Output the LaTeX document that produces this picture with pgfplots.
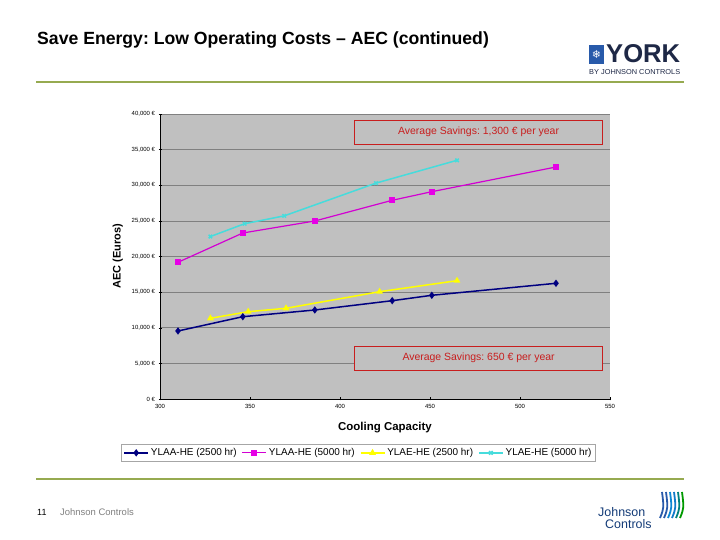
\documentclass[border=0pt]{standalone}
\usepackage{pgfplots}
\pgfplotsset{compat=1.18}
\usepackage{fontspec}
\setmainfont{Liberation Sans}
\newfontfamily\dejavu{DejaVu Sans}
\frenchspacing
\definecolor{plotgray}{RGB}{192,192,192}
\definecolor{gridgray}{RGB}{128,128,128}
\definecolor{sNavy}{RGB}{0,0,128}
\definecolor{sMag}{RGB}{230,0,230}
\definecolor{sYel}{RGB}{255,255,0}
\definecolor{sCyan}{RGB}{70,220,220}
\definecolor{boxred}{RGB}{200,30,30}
\definecolor{olive}{RGB}{150,170,80}
\definecolor{yorkblue}{RGB}{40,90,170}
\definecolor{yorkdark}{RGB}{30,40,70}
\definecolor{jcblue}{RGB}{20,60,120}
\begin{document}
\begin{tikzpicture}[x=1bp,y=1bp]
\path[use as bounding box, fill=white] (0,0) rectangle (720,540);
% title
\node[anchor=west, font=\fontsize{17.7}{20}\selectfont\bfseries, inner sep=0] at (37,500) {Save Energy: Low Operating Costs – AEC (continued)};
\draw[olive, line width=1.2bp] (36,458) -- (684,458);
\draw[olive, line width=1.2bp] (36,61) -- (684,61);
% YORK logo
\fill[yorkblue] (589,476) rectangle (604,495);
\node[white, font=\dejavu\fontsize{11}{11}\selectfont, inner sep=0] at (596.5,485.5) {❄};
\node[anchor=south west, yorkdark, inner sep=0] at (606,477) {\resizebox{74bp}{18bp}{\bfseries YORK}};
\node[anchor=west, yorkdark, inner sep=0] at (589,468) {\resizebox{91bp}{5bp}{BY JOHNSON CONTROLS}};
% footer
\node[anchor=west, font=\fontsize{9}{10}\selectfont, inner sep=0] at (37,28) {11};
\node[anchor=west, gray, font=\fontsize{9.5}{10}\selectfont, inner sep=0] at (60,28) {Johnson Controls};
\node[anchor=west, jcblue, font=\fontsize{12.5}{13}\selectfont, inner sep=0] at (598,28) {Johnson};
\node[anchor=west, jcblue, font=\fontsize{12.5}{13}\selectfont, inner sep=0] at (605,16) {Controls};
\foreach \i/\c in {0/yorkblue,1/yorkblue,2/cyan!70!blue,3/cyan!60!blue,4/teal,5/green!60!black}{
  \draw[\c, line width=1.8bp] (660+4*\i,22) .. controls (664+4*\i,32) .. (662+4*\i,48);
}
\begin{axis}[
  at={(160bp,141bp)}, anchor=south west,
  scale only axis, width=450bp, height=285bp,
  xmin=300, xmax=550, ymin=0, ymax=40000,
  axis background/.style={fill=plotgray},
  axis x line=bottom, axis y line=left,
  axis line style={black, line width=0.4bp, -},
  xtick={300,350,...,550},
  ytick={0,5000,...,40000},
  yticklabels={0 €,{5,000 €},{10,000 €},{15,000 €},{20,000 €},{25,000 €},{30,000 €},{35,000 €},{40,000 €}},
  /pgf/number format/assume math mode=true,
  scaled y ticks=false,
  tick label style={font=\fontsize{6}{7}\selectfont},
  major tick length=3bp,
  tick style={black, line width=0.4bp},
  xtick pos=bottom, ytick pos=left,
  ymajorgrids, grid style={gridgray, line width=0.6bp},
  xlabel={\bfseries Cooling Capacity},
  ylabel={\bfseries AEC (Euros)},
  xlabel style={font=\fontsize{11.5}{12}\selectfont, yshift=-7bp},
  ylabel style={font=\fontsize{11}{12}\selectfont, yshift=2bp},
  legend columns=4,
  legend style={at={(0.441,-0.189)}, anchor=center, draw=gray!70, line width=0.5bp,
    font=\fontsize{10}{11}\selectfont, inner xsep=2bp, inner ysep=2bp,
    /tikz/every even column/.append style={column sep=3bp}},
  legend cell align=left,
  legend image code/.code={\draw[mark repeat=2,mark phase=2] plot coordinates {(0bp,0bp) (12bp,0bp) (24bp,0bp)};},
  clip=false,
]
\addplot[sNavy, line width=1.5bp, mark=diamond*, mark size=2.5bp, mark options={fill=sNavy}]
  coordinates {(310,9544)(346,11551)(386,12491)(429,13796)(451,14554)(520,16238)};
\addlegendentry{YLAA-HE (2500 hr)}
\addplot[sMag!80!violet, line width=1.2bp, mark=square*, mark size=2.5bp, mark options={fill=sMag, draw=sMag}]
  coordinates {(310,19186)(346,23298)(386,24982)(429,27888)(451,29095)(520,32561)};
\addlegendentry{YLAA-HE (5000 hr)}
\addplot[sYel, line width=1.5bp, mark=triangle*, mark size=2.5bp, mark options={fill=sYel}]
  coordinates {(328,11326)(349,12253)(370,12730)(422,15060)(465,16604)};
\addlegendentry{YLAE-HE (2500 hr)}
\addplot[sCyan, line width=1.5bp, mark=x, mark size=2.5bp]
  coordinates {(328,22800)(347,24600)(369,25700)(420,30300)(465,33500)};
\addlegendentry{YLAE-HE (5000 hr)}
\node[draw=boxred, fill=plotgray, line width=0.6bp, minimum width=248bp, minimum height=24bp,
  text=boxred, font=\fontsize{10.5}{12}\selectfont, inner sep=0] at (rel axis cs:0.708,0.937) {Average Savings: 1,300 € per year};
\node[draw=boxred, fill=plotgray, line width=0.6bp, minimum width=248bp, minimum height=24bp,
  text=boxred, font=\fontsize{10.5}{12}\selectfont, inner sep=0] at (rel axis cs:0.708,0.144) {Average Savings: 650 € per year};
\end{axis}
\end{tikzpicture}
\end{document}
